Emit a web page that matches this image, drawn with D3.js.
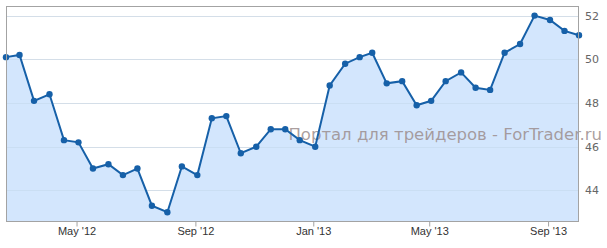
<!DOCTYPE html>
<html>
<head>
<meta charset="utf-8">
<script src="https://cdn.jsdelivr.net/npm/d3@7"></script>
<style>
  body { margin: 0; background: #fff; }
  svg { display: block; }
</style>
</head>
<body>
<div id="vis"></div>
<script>
var width = 607,
    height = 248;

// semi-monthly readings
var dates = [
  "2012-02-18", "2012-03-03", "2012-03-18", "2012-04-03", "2012-04-18",
  "2012-05-03", "2012-05-18", "2012-06-03", "2012-06-18", "2012-07-03",
  "2012-07-18", "2012-08-03", "2012-08-18", "2012-09-03", "2012-09-18",
  "2012-10-03", "2012-10-18", "2012-11-03", "2012-11-18", "2012-12-03",
  "2012-12-18", "2013-01-03", "2013-01-18", "2013-02-03", "2013-02-18",
  "2013-03-03", "2013-03-18", "2013-04-03", "2013-04-18", "2013-05-03",
  "2013-05-18", "2013-06-03", "2013-06-18", "2013-07-03", "2013-07-18",
  "2013-08-03", "2013-08-18", "2013-09-03", "2013-09-18", "2013-10-03"
];
var values = [
  50.1, 50.2, 48.1, 48.4, 46.3, 46.2, 45.0, 45.2, 44.7, 45.0,
  43.3, 43.0, 45.1, 44.7, 47.3, 47.4, 45.7, 46.0, 46.8, 46.8,
  46.3, 46.0, 48.8, 49.8, 50.1, 50.3, 48.9, 49.0, 47.9, 48.1,
  49.0, 49.4, 48.7, 48.6, 50.3, 50.7, 52.0, 51.8, 51.3, 51.1
];
var yTicks = [44, 46, 48, 50, 52];
var xTicks = ["2012-05-01", "2012-09-01", "2013-01-01", "2013-05-01", "2013-09-01"];
var watermark = "Портал для трейдеров - ForTrader.ru";

var parse = d3.timeParse("%Y-%m-%d");
var data = dates.map(function(d, i) { return {date: parse(d), value: values[i]}; });

var plotL = 6, plotR = 579, plotT = 6, plotB = 221;

var x = d3.scaleTime()
    .domain([parse(dates[0]), parse(dates[dates.length - 1])])
    .range([plotL, plotR]);

var y = d3.scaleLinear()
    .domain([42.6, 52.44])
    .range([plotB, plotT]);

var svg = d3.select("#vis").append("svg")
    .attr("width", width)
    .attr("height", height);

function gridY(d) { return Math.round(y(d)) + 0.5; }

// gridlines
svg.selectAll("line.grid")
    .data(yTicks)
    .enter()
    .append("line")
    .attr("class", "grid")
    .attr("x1", plotL)
    .attr("x2", plotR)
    .attr("y1", gridY)
    .attr("y2", gridY)
    .attr("stroke", "#e6e6e6")
    .attr("stroke-width", 1);

var area = d3.area()
    .x(function(d) { return x(d.date); })
    .y0(plotB)
    .y1(function(d) { return y(d.value); });

var line = d3.line()
    .x(function(d) { return x(d.date); })
    .y(function(d) { return y(d.value); });

svg.append("clipPath").attr("id", "clip")
  .append("rect")
    .attr("x", plotL).attr("y", plotT)
    .attr("width", plotR - plotL).attr("height", plotB - plotT);

svg.append("path")
    .datum(data)
    .attr("d", area)
    .attr("fill", "#d3e6fd")
    .attr("clip-path", "url(#clip)");

// faint gridlines show through the fill
svg.selectAll("line.grid2")
    .data(yTicks)
    .enter()
    .append("line")
    .attr("class", "grid2")
    .attr("x1", plotL)
    .attr("x2", plotR)
    .attr("y1", gridY)
    .attr("y2", gridY)
    .attr("stroke", "#c2d5ea")
    .attr("stroke-opacity", 0.5);

// watermark
svg.append("text")
    .attr("x", 602)
    .attr("y", 140)
    .attr("text-anchor", "end")
    .attr("font-family", "DejaVu Sans, Verdana, sans-serif")
    .attr("font-size", "16.5px")
    .attr("fill", "#9c8e8e")
    .attr("fill-opacity", 0.85)
    .text(watermark);

svg.append("path")
    .datum(data)
    .attr("d", line)
    .attr("fill", "none")
    .attr("stroke", "#1660a8")
    .attr("stroke-width", 2);

svg.selectAll("circle.dot")
    .data(data)
    .enter()
    .append("circle")
    .attr("class", "dot")
    .attr("cx", function(d) { return x(d.date); })
    .attr("cy", function(d) { return y(d.value); })
    .attr("r", 3.2)
    .attr("fill", "#1660a8");

// frame
svg.append("rect")
    .attr("x", plotL + 0.5)
    .attr("y", plotT + 0.5)
    .attr("width", plotR - plotL - 1)
    .attr("height", plotB - plotT)
    .attr("fill", "none")
    .attr("stroke", "#a3a3a3")
    .attr("stroke-width", 1);

// x axis
var xAxis = d3.axisBottom(x)
    .tickValues(xTicks.map(parse))
    .tickSize(5)
    .tickFormat(d3.timeFormat("%b '%y"));

var gx = svg.append("g")
    .attr("transform", "translate(0," + (plotB + 0.5) + ")")
    .call(xAxis);
gx.select(".domain").remove();
gx.selectAll("line").attr("stroke", "#a3a3a3");
gx.selectAll("text")
    .attr("fill", "#333")
    .attr("font-family", "Liberation Sans, Arial, sans-serif")
    .attr("font-size", "11px")
    .attr("dy", "0.9em")
    .attr("y", 4);

// y axis on the right
var yAxis = d3.axisRight(y)
    .tickValues(yTicks)
    .tickSize(0)
    .tickPadding(6);

var gy = svg.append("g")
    .attr("transform", "translate(" + plotR + ",0)")
    .call(yAxis);
gy.select(".domain").remove();
gy.selectAll("text")
    .attr("fill", "#666")
    .attr("font-family", "DejaVu Sans, Verdana, sans-serif")
    .attr("font-size", "11px");
</script>
</body>
</html>
